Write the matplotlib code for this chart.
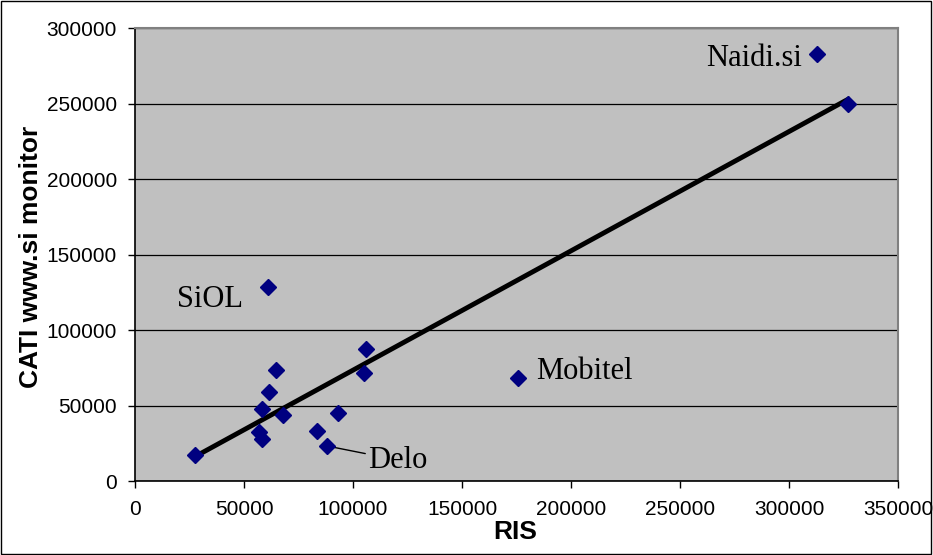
import matplotlib
matplotlib.use("Agg")
import matplotlib.pyplot as plt
import numpy as np
from matplotlib.patches import Rectangle

# RIS reach vs CATI www.si monitor reach
ris = [313000, 327000, 61000, 106000, 105000, 64700, 61500, 58300, 67900,
       93100, 83500, 88100, 56900, 58300, 27500, 175700]
cati = [283000, 250000, 128500, 87400, 71500, 73500, 59000, 47700, 43700,
        45000, 33100, 23200, 32500, 27800, 17200, 68200]

x_ticks = [0, 50000, 100000, 150000, 200000, 250000, 300000, 350000]
y_ticks = [0, 50000, 100000, 150000, 200000, 250000, 300000]

sans = 'Liberation Sans'
serif = 'Liberation Serif'

fig = plt.figure(figsize=(9.33, 5.55), dpi=100)
ax = fig.add_axes([0.1447, 0.1333, 0.8178, 0.8162])
ax.set_facecolor('#c0c0c0')

ax.set_xlim(0, 350000)
ax.set_ylim(0, 300000)
ax.set_xticks(x_ticks)
ax.set_yticks(y_ticks)
ax.set_xticklabels([str(v) for v in x_ticks], fontfamily=sans, fontsize=15)
ax.set_yticklabels([str(v) for v in y_ticks], fontfamily=sans, fontsize=15)
ax.tick_params(direction='out', length=5, width=1, color='black')
ax.tick_params(axis='x', pad=9)
ax.tick_params(axis='y', pad=8)

ax.yaxis.grid(True, color='black', linewidth=0.9)
ax.set_axisbelow(True)

for side in ['top', 'right']:
    ax.spines[side].set_color('#808080')
    ax.spines[side].set_linewidth(1.5)
for side in ['left', 'bottom']:
    ax.spines[side].set_color('black')
    ax.spines[side].set_linewidth(1.2)

# linear trend from the data
k, n = np.polyfit(ris, cati, 1)
tx = np.array([min(ris), max(ris)])
ax.plot(tx, k * tx + n, color='black', linewidth=3.5, zorder=3)

ax.plot(ris, cati, linestyle='none', marker='D', markersize=8,
        color='#000080', markeredgecolor='#000080', zorder=4)

ax.text(306000, 280000, 'Naidi.si', fontfamily=serif, fontsize=22,
        ha='right', va='center')
ax.text(19300, 120000, 'SiOL', fontfamily=serif, fontsize=22,
        ha='left', va='center')
ax.text(183900, 72200, 'Mobitel', fontfamily=serif, fontsize=22,
        ha='left', va='center')
ax.annotate('Delo', xy=(88100, 23200), xytext=(106900, 13900),
            fontfamily=serif, fontsize=22, ha='left', va='center',
            arrowprops=dict(arrowstyle='-', color='black', lw=1,
                            shrinkA=0, shrinkB=4))

ax.set_xlabel('RIS', fontfamily=sans, fontsize=19, fontweight='bold')
ax.set_ylabel('CATI www.si monitor', fontfamily=sans, fontsize=19,
              fontweight='bold')
ax.xaxis.set_label_coords(0.498, -0.1126)
ax.xaxis.label.set_va('center')
ax.yaxis.set_label_coords(-0.1363, 0.494)
ax.yaxis.label.set_va('center')

fig.patches.append(Rectangle((0.001, 0.002), 0.997, 0.996,
                             transform=fig.transFigure, fill=False,
                             edgecolor='black', linewidth=1))

fig.savefig('out.png', dpi=100)
